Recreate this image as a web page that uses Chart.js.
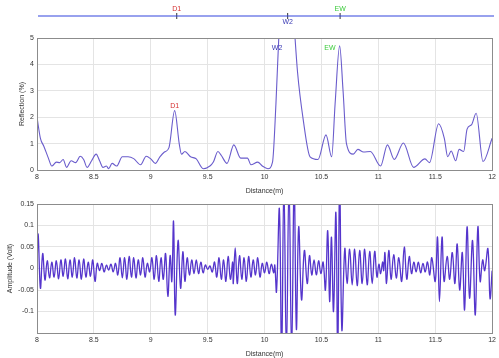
<!DOCTYPE html>
<html><head><meta charset="utf-8">
<script src="https://cdn.jsdelivr.net/npm/chart.js@4"></script>
<style>
html,body{margin:0;padding:0;background:#fff;width:499px;height:358px;overflow:hidden}
canvas{position:absolute;left:0}
#c1{top:0}
#c2{top:30px}
#c3{top:195px}
</style></head><body>
<canvas id="c1" width="499" height="32"></canvas>
<canvas id="c2" width="499" height="165"></canvas>
<canvas id="c3" width="499" height="163"></canvas>
<script>
// ---- data ----
const xTicks = [8, 8.5, 9, 9.5, 10, 10.5, 11, 11.5, 12];
const markerNames = ['D1', 'W2', 'EW'];
const markerDist = [9.217, 10.19, 10.65];
const markerColors = ['#d63030', '#3a3ab4', '#3ccc3c'];
const markerAbove = [true, false, true];
const peakLabelDist = [9.21, 10.11, 10.575];
const peakLabelVal = [2.42, 4.62, 4.62];

const reflDist = [8.00,8.03,8.06,8.10,8.13,8.17,8.20,8.23,8.26,8.30,8.34,8.38,8.41,8.44,8.48,8.52,8.55,8.58,8.61,8.63,8.66,8.70,8.75,8.80,8.85,8.91,8.96,9.00,9.04,9.08,9.12,9.16,9.21,9.25,9.27,9.30,9.35,9.40,9.46,9.52,9.55,9.59,9.62,9.67,9.73,9.79,9.85,9.88,9.94,9.98,10.03,10.07,10.10,10.13,10.17,10.22,10.26,10.29,10.34,10.40,10.47,10.54,10.59,10.62,10.66,10.69,10.72,10.78,10.82,10.87,10.93,11.02,11.08,11.14,11.22,11.31,11.41,11.45,11.53,11.58,11.61,11.64,11.68,11.71,11.75,11.78,11.82,11.86,11.92,12.00];
const reflVal = [2.0,1.2,0.9,0.45,0.15,0.3,0.28,0.4,0.1,0.35,0.28,0.52,0.4,0.1,0.35,0.6,0.35,0.1,0.15,0.05,0.25,0.15,0.5,0.5,0.43,0.2,0.52,0.42,0.25,0.5,0.68,0.85,2.25,1.0,0.6,0.7,0.5,0.42,0.05,0.15,0.3,0.7,0.55,0.25,0.95,0.45,0.45,0.2,0.3,0.15,0.05,0.3,2.5,5.5,8,8,5.5,3.7,1.9,0.5,0.4,1.33,0.5,2.5,4.7,3.0,1.0,0.6,0.78,0.68,0.7,0.15,0.95,0.4,1.02,0.1,0.42,0.28,1.75,1.2,0.5,0.72,0.35,0.78,0.7,1.55,1.72,2.15,0.32,1.2];

const ampDist = [8.000,8.010,8.030,8.050,8.070,8.090,8.110,8.130,8.150,8.170,8.190,8.210,8.230,8.250,8.270,8.290,8.310,8.330,8.350,8.370,8.390,8.410,8.430,8.450,8.470,8.490,8.510,8.530,8.550,8.570,8.590,8.610,8.630,8.650,8.670,8.690,8.710,8.730,8.750,8.770,8.790,8.810,8.830,8.850,8.870,8.890,8.910,8.930,8.950,8.970,8.990,9.010,9.030,9.050,9.070,9.090,9.110,9.130,9.150,9.170,9.185,9.200,9.215,9.240,9.262,9.282,9.300,9.320,9.340,9.360,9.380,9.400,9.420,9.440,9.460,9.480,9.500,9.520,9.540,9.560,9.580,9.600,9.620,9.640,9.660,9.680,9.700,9.720,9.725,9.742,9.760,9.780,9.800,9.820,9.840,9.860,9.880,9.900,9.920,9.940,9.960,9.980,10.000,10.020,10.040,10.060,10.080,10.090,10.105,10.130,10.150,10.170,10.192,10.215,10.238,10.260,10.280,10.300,10.325,10.350,10.375,10.395,10.415,10.435,10.455,10.475,10.495,10.515,10.535,10.555,10.572,10.588,10.606,10.627,10.643,10.660,10.680,10.705,10.725,10.748,10.770,10.792,10.814,10.836,10.858,10.880,10.902,10.924,10.946,10.968,10.988,11.005,11.020,11.038,11.047,11.058,11.072,11.092,11.112,11.135,11.158,11.180,11.205,11.228,11.250,11.272,11.292,11.312,11.332,11.352,11.372,11.392,11.412,11.432,11.452,11.470,11.500,11.520,11.537,11.560,11.578,11.605,11.627,11.650,11.673,11.693,11.715,11.738,11.758,11.780,11.802,11.828,11.852,11.875,11.895,11.917,11.935,11.963,11.982,12.000];
const ampVolt = [0.0,0.08,-0.046,0.035,-0.027,0.018,-0.022,0.015,-0.02,0.018,-0.024,0.02,-0.018,0.022,-0.024,0.02,-0.02,0.025,-0.022,0.02,-0.025,0.022,-0.02,0.015,-0.018,0.02,-0.03,0.012,-0.005,0.012,-0.008,0.008,-0.004,0.01,-0.008,0.012,-0.015,0.025,-0.022,0.025,-0.025,0.028,-0.02,0.025,-0.022,0.02,-0.015,0.025,-0.02,0.012,-0.008,0.025,-0.025,0.03,-0.03,0.025,-0.025,0.035,-0.065,0.03,-0.03,0.11,-0.108,0.065,-0.046,0.039,-0.03,0.025,-0.015,0.02,-0.012,0.02,-0.012,0.015,-0.01,0.008,-0.002,0.006,-0.008,0.015,-0.02,0.025,-0.025,0.02,-0.03,0.028,-0.025,0.015,-0.035,0.048,-0.035,0.03,-0.025,0.025,-0.03,0.028,-0.02,0.02,-0.015,0.025,-0.02,0.012,-0.01,0.015,-0.012,0.01,-0.01,0.008,-0.054,0.14,-0.2,0.2,-0.2,0.2,-0.2,0.2,-0.142,0.097,-0.073,0.042,-0.035,0.03,-0.015,0.02,-0.015,0.018,-0.012,0.015,-0.05,0.088,-0.077,0.073,-0.1,0.13,-0.2,0.2,-0.145,0.046,-0.035,0.045,-0.038,0.045,-0.04,0.042,-0.035,0.045,-0.038,0.04,-0.035,0.04,-0.02,0.01,-0.012,0.015,-0.005,0.037,-0.035,0.042,-0.025,0.032,-0.022,0.025,-0.03,0.05,-0.025,0.028,-0.012,0.015,-0.008,0.015,-0.01,0.012,-0.008,0.015,-0.015,0.025,-0.03,0.073,-0.077,0.073,-0.03,0.028,-0.025,0.037,-0.035,0.057,-0.05,0.037,-0.096,0.097,-0.069,0.065,-0.108,0.097,-0.03,0.02,-0.005,0.046,-0.07,-0.005];

const reflTicks = [0, 1, 2, 3, 4, 5];
const ampTicks = [-0.15, -0.1, -0.05, 0, 0.05, 0.1, 0.15];

// ---- helpers ----
const FONT = 'Liberation Sans, Arial, sans-serif';
const LEFT = 37;
function fmt(v){ const r = Math.round(v*100)/100; return String(r); }

const boxPlugin = {
  id: 'box',
  afterDraw(chart){
    const a = chart.chartArea, c = chart.ctx;
    c.save(); c.strokeStyle = '#8c8c8c'; c.lineWidth = 1;
    c.strokeRect(Math.round(a.left)+0.5, Math.round(a.top)+0.5, Math.round(a.right-a.left), Math.round(a.bottom-a.top));
    c.restore();
  }
};

function xScale(showTitle){
  return {
    type: 'linear', min: 8, max: 12,
    afterBuildTicks(s){ s.ticks = xTicks.map(v => ({value: v})); },
    grid: { color: '#e4e4e4', lineWidth: 1, drawTicks: false },
    border: { display: false },
    ticks: { color: '#333', font: { family: FONT, size: 7 }, padding: 3, maxRotation: 0, autoSkip: false,
      callback: v => fmt(v) },
    title: { display: showTitle, text: 'Distance(m)', color: '#333', font: { family: FONT, size: 7 }, padding: { top: 0, bottom: 0 } },
    afterFit(s){ s.height = 25; }
  };
}

// ---- top marker strip ----
new Chart(document.getElementById('c1'), {
  type: 'scatter',
  data: { datasets: [
    { data: [{x: 8, y: 0}, {x: 12, y: 0}], showLine: true, borderColor: '#3344dd', borderWidth: 1.2, pointRadius: 0 },
    { data: markerDist.map(d => ({x: d, y: 0})), showLine: false, pointStyle: 'line', rotation: 90, pointRadius: 3, borderColor: '#333', borderWidth: 1, pointBorderColor: '#333' }
  ]},
  options: {
    responsive: false, animation: false, events: [],
    layout: { padding: { left: LEFT+1, right: 2, top: 0, bottom: 0 } },
    plugins: { legend: { display: false }, tooltip: { enabled: false } },
    scales: { x: { type: 'linear', min: 8, max: 12, display: false }, y: { min: -1, max: 1, display: false } }
  },
  plugins: [{
    id: 'mlabels',
    afterDraw(chart){
      const c = chart.ctx, xs = chart.scales.x, ys = chart.scales.y;
      c.save(); c.font = '7px ' + FONT; c.textAlign = 'center'; c.textBaseline = 'middle';
      markerNames.forEach((n, i) => {
        c.fillStyle = markerColors[i];
        const px = xs.getPixelForValue(markerDist[i]);
        const py = ys.getPixelForValue(0) + (markerAbove[i] ? -7 : 6);
        c.fillText(n, px, py);
      });
      c.restore();
    }
  }]
});

// ---- reflection chart ----
new Chart(document.getElementById('c2'), {
  type: 'scatter',
  data: { datasets: [{ data: reflDist.map((d, i) => ({x: d, y: reflVal[i]})), showLine: true, borderColor: '#6a5ccc', borderWidth: 1.1, pointRadius: 0, tension: 0.35, cubicInterpolationMode: 'monotone' }] },
  options: {
    responsive: false, animation: false, events: [],
    layout: { padding: { left: 0, right: 2, top: 8, bottom: 0 } },
    plugins: { legend: { display: false }, tooltip: { enabled: false } },
    scales: {
      x: xScale(true),
      y: { min: 0, max: 5,
        afterBuildTicks(s){ s.ticks = reflTicks.map(v => ({value: v})); },
        grid: { color: '#e4e4e4', drawTicks: false }, border: { display: false },
        ticks: { color: '#333', font: { family: FONT, size: 7 }, padding: 3, callback: v => fmt(v) },
        title: { display: true, text: 'Reflection (%)', color: '#333', font: { family: FONT, size: 7 }, padding: { top: 18, bottom: 0 } },
        afterFit(s){ s.width = LEFT; }
      }
    }
  },
  plugins: [boxPlugin, {
    id: 'plabels',
    afterDatasetsDraw(chart){
      const c = chart.ctx, xs = chart.scales.x, ys = chart.scales.y;
      c.save(); c.font = '7px ' + FONT; c.textAlign = 'center'; c.textBaseline = 'middle';
      markerNames.forEach((n, i) => {
        c.fillStyle = markerColors[i];
        c.fillText(n, xs.getPixelForValue(peakLabelDist[i]), ys.getPixelForValue(peakLabelVal[i]));
      });
      c.restore();
    }
  }]
});

// ---- amplitude chart ----
new Chart(document.getElementById('c3'), {
  type: 'scatter',
  data: { datasets: [{ data: ampDist.map((d, i) => ({x: d, y: ampVolt[i]})), showLine: true, borderColor: '#5535cc', borderWidth: 1.3, pointRadius: 0, tension: 0.4 }] },
  options: {
    responsive: false, animation: false, events: [],
    layout: { padding: { left: 0, right: 2, top: 9, bottom: 0 } },
    plugins: { legend: { display: false }, tooltip: { enabled: false } },
    scales: {
      x: xScale(true),
      y: { min: -0.15, max: 0.15,
        afterBuildTicks(s){ s.ticks = ampTicks.map(v => ({value: v})); },
        grid: { color: '#e4e4e4', drawTicks: false }, border: { display: false },
        ticks: { color: '#333', font: { family: FONT, size: 7 }, padding: 3, callback: v => (Math.abs(v + 0.15) < 1e-6 ? '' : fmt(v)) },
        title: { display: true, text: 'Amplitude (Volt)', color: '#333', font: { family: FONT, size: 7 }, padding: { top: 6, bottom: 0 } },
        afterFit(s){ s.width = LEFT; }
      }
    }
  },
  plugins: [boxPlugin]
});
</script>
</body></html>
